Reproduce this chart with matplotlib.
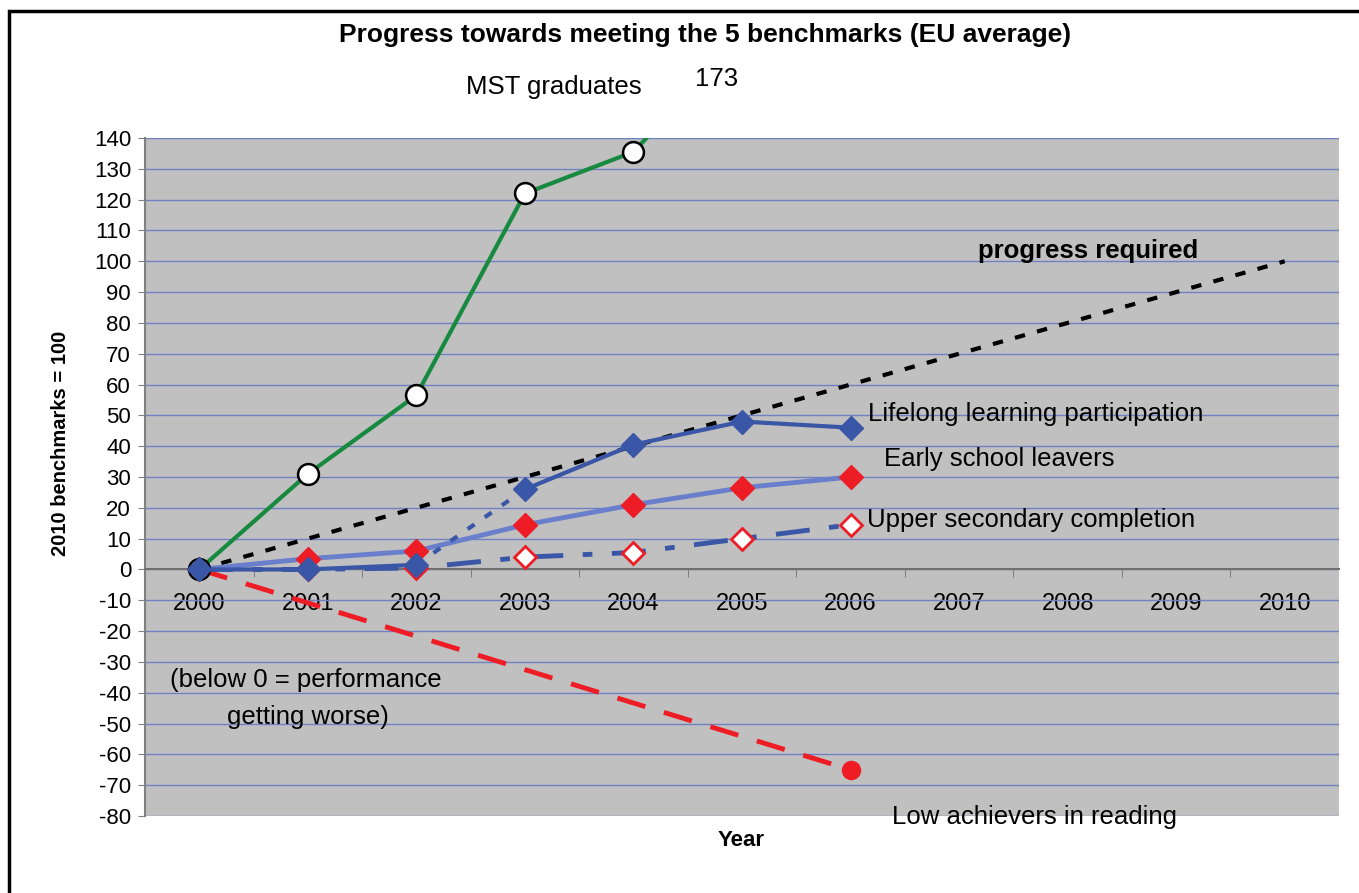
import numpy as np
import matplotlib.pyplot as plt
from matplotlib.patches import Rectangle

plt.rcParams['font.family'] = ['Liberation Sans', 'DejaVu Sans']
plt.rcParams['axes.unicode_minus'] = False

# data (2010 benchmark = 100)
years = [2000, 2001, 2002, 2003, 2004, 2005, 2006, 2007, 2008, 2009, 2010]
mst = [0, 31, 56.5, 122, 135.5, 173]
lifelong = [0, 0, 1.5, 26, 40.5, 48, 46]
early = [0, 3.5, 6, 14.5, 21, 26.5, 30]
upper = [0, 0, 0.5, 4, 5.5, 10, 14.5]
reading_years = [2000, 2003, 2006]
reading = [0, -32.5, -65]
required_years = [2000, 2010]
required = [0, 100]

def idx(yrs):
    return [years.index(y) for y in yrs]

W, H = 1359, 893
fig = plt.figure(figsize=(W / 100, H / 100), dpi=100)
fig.patches.append(Rectangle((9 / W, -0.1), 1.2, 1 - 11 / H + 0.1, transform=fig.transFigure,
                             fill=False, edgecolor='black', linewidth=2.5))
ax = fig.add_axes([145 / W, (H - 816) / H, (1339 - 145) / W, (816 - 138) / H])
ax.set_facecolor('#c0c0c0')
ax.set_xlim(-0.5, 10.5)
ax.set_ylim(-80, 140)

# grid
ax.set_yticks(np.arange(-80, 141, 10))
ax.yaxis.grid(True, color='#7080c4', linewidth=1)
ax.set_axisbelow(True)
for s in ['top', 'right']:
    ax.spines[s].set_visible(False)
ax.spines['left'].set_color('#808080')
ax.spines['left'].set_linewidth(1.5)
ax.spines['bottom'].set_position(('data', 0))
ax.spines['bottom'].set_color('#707070')
ax.spines['bottom'].set_linewidth(1.5)
ax.tick_params(axis='y', direction='out', length=5, color='#808080', labelsize=16, pad=5)
ax.set_xticks(range(len(years)))
ax.set_xticklabels([str(y) for y in years])
ax.set_xticks(np.arange(0.5, 10, 1), minor=True)
ax.tick_params(axis='x', which='major', length=0, labelsize=17, pad=17)
ax.tick_params(axis='x', which='minor', direction='out', length=6, color='#707070')

green = '#178a40'
dblue = '#3a56a6'
lblue = '#6a7fcb'
red = '#ee1c25'

# progress required
ax.plot(idx(required_years), required, color='black', linewidth=3, dashes=(2.5, 3), zorder=3)

# low achievers in reading
ax.plot(idx(reading_years), reading, color=red, linewidth=3.5, dashes=(6, 4), zorder=3)
ax.plot(idx(reading_years)[-1], reading[-1], 'o', color=red, markersize=13, zorder=4)

# upper secondary completion
ux = list(range(len(upper)))
ax.plot(ux, upper, color=dblue, linewidth=3.5, dashes=(7, 4, 2, 4), zorder=4)
ax.plot(ux, upper, 'D', markerfacecolor='white', markeredgecolor=red, markeredgewidth=2,
        markersize=11, linestyle='none', zorder=5)

# early school leavers
ex = list(range(len(early)))
ax.plot(ex, early, color=lblue, linewidth=3.5, zorder=5)
ax.plot(ex, early, 'D', color=red, markersize=12, linestyle='none', zorder=6)

# lifelong learning (break in series 2002-2003)
lx = list(range(len(lifelong)))
ax.plot(lx[:3], lifelong[:3], color=dblue, linewidth=3, zorder=6)
ax.plot(lx[2:4], lifelong[2:4], color=dblue, linewidth=3, dashes=(2, 3), zorder=6)
ax.plot(lx[3:], lifelong[3:], color=dblue, linewidth=3, zorder=6)
ax.plot(lx, lifelong, 'D', color=dblue, markersize=12, linestyle='none', zorder=8)

# MST graduates
mx = list(range(len(mst)))
ax.plot(mx, mst, color=green, linewidth=3, zorder=7,
        marker='o', markersize=15, markerfacecolor='white', markeredgecolor='black', markeredgewidth=1.8)

# labels
lab = 18.5
ax.text(3.27, 156.6, 'MST graduates', fontsize=lab, ha='center', va='center', clip_on=False)
ax.text(4.77, 159, '173', fontsize=lab, ha='center', va='center', clip_on=False)
ax.text(7.17, 103.3, 'progress required', fontsize=lab, fontweight='bold', ha='left', va='center')
ax.text(6.16, 50.4, 'Lifelong learning participation', fontsize=lab, ha='left', va='center', zorder=10)
ax.text(6.31, 35.7, 'Early school leavers', fontsize=lab, ha='left', va='center', zorder=10)
ax.text(6.15, 16.2, 'Upper secondary completion', fontsize=lab, ha='left', va='center', zorder=10)
ax.text(-0.27, -36, '(below 0 = performance', fontsize=lab, ha='left', va='center')
ax.text(0.26, -47.8, 'getting worse)', fontsize=lab, ha='left', va='center')
ax.text(6.38, -80.3, 'Low achievers in reading', fontsize=lab, ha='left', va='center', clip_on=False)

fig.text(705 / W, 1 - 35 / H, 'Progress towards meeting the 5 benchmarks (EU average)',
         fontsize=19, fontweight='bold', ha='center', va='center')
fig.text(60 / W, 1 - 443 / H, '2010 benchmarks = 100', fontsize=14.5, fontweight='bold',
         rotation=90, ha='center', va='center')
fig.text(741 / W, 1 - 841 / H, 'Year', fontsize=16, fontweight='bold', ha='center', va='center')

fig.savefig('out.png', dpi=100)
